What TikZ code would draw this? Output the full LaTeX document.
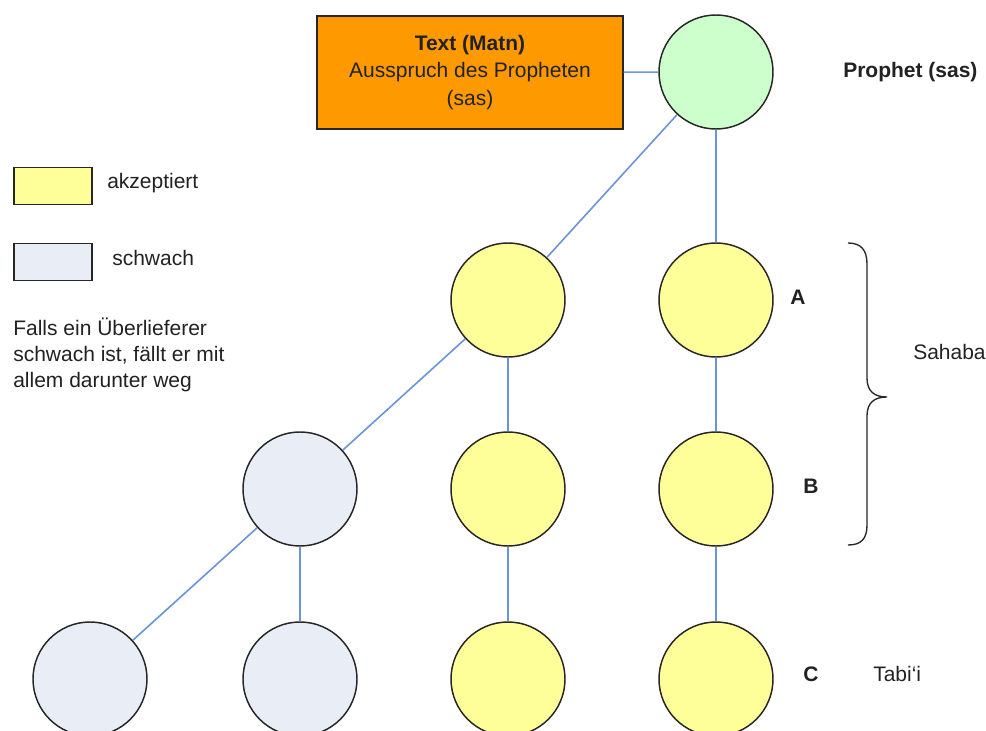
\documentclass[tikz,border=0pt]{standalone}
\usepackage{fontspec}
\setmainfont{Liberation Sans}
\definecolor{orangefill}{HTML}{FF9900}
\definecolor{greenfill}{HTML}{CCFFCC}
\definecolor{yellowfill}{HTML}{FFFF99}
\definecolor{grayfill}{HTML}{E8EDF6}
\definecolor{linkblue}{HTML}{6A94D6}
\definecolor{txt}{HTML}{222222}
\definecolor{outline}{HTML}{262626}
\begin{document}
\begin{tikzpicture}[x=0.75pt,y=-0.75pt,
  every node/.style={font=\fontsize{15.75}{19.5}\selectfont, text=txt},
  circ/.style={circle, draw=outline, line width=1.1pt, minimum size=85.5pt, inner sep=0pt},
  acc/.style={circ, fill=yellowfill},
  weak/.style={circ, fill=grayfill},
  link/.style={draw=linkblue, line width=1.2pt},
  lbl/.style={anchor=west, inner sep=0pt},
  bold/.style={lbl, font=\fontsize{15.75}{19.5}\selectfont\bfseries},
  legendbox/.style={draw=outline, line width=1.1pt, minimum width=58.5pt, minimum height=28pt, inner sep=0pt}
]
\useasboundingbox[fill=white] (0,0) rectangle (986,731);

% top
\node[draw=outline, line width=1.1pt, fill=orangefill, minimum width=229.5pt, minimum height=84.75pt, align=center, inner sep=0pt] (matn) at (470,72.5)
  {\textbf{Text (Matn)}\\[1pt]Ausspruch des Propheten\\[1pt](sas)};
\node[circ, fill=greenfill] (p) at (716,72) {};
\node[bold] (plbl) at (843,72) {Prophet (sas)};

% nodes
\node[acc] (a2) at (508,300) {};
\node[acc] (A) at (716,300) {};
\node[weak] (w3) at (300,489) {};
\node[acc] (a3) at (508,489) {};
\node[acc] (B) at (716,489) {};
\node[weak] (w4a) at (90,679) {};
\node[weak] (w4b) at (300,679) {};
\node[acc] (a4) at (508,679) {};
\node[acc] (C) at (716,679) {};

% links
\draw[link] (matn) -- (p);
\draw[link] (p) -- (a2);
\draw[link] (p) -- (A);
\draw[link] (a2) -- (w3);
\draw[link] (a2) -- (a3);
\draw[link] (A) -- (B);
\draw[link] (w3) -- (w4a);
\draw[link] (w3) -- (w4b);
\draw[link] (a3) -- (a4);
\draw[link] (B) -- (C);

% labels
\node[bold] (la) at (790,297) {A};
\node[bold] (lb) at (803,486) {B};
\node[bold] (lc) at (803,674) {C};
\node[lbl] (tabi) at (873,674) {Tabi`i};
\node[lbl] (sahaba) at (913,352) {Sahaba};

% brace
\draw[outline, line width=1pt] (848,243) .. controls (861,243) and (867,250) .. (867,264)
  -- (867,378) .. controls (867,391) and (874,397) .. (887,397)
  .. controls (874,397) and (867,403) .. (867,416)
  -- (867,525) .. controls (867,539) and (861,545) .. (848,545);

% legend
\node[legendbox, fill=yellowfill] (ly) at (53,186) {};
\node[lbl] (lyt) at (107,183) {akzeptiert};
\node[legendbox, fill=grayfill] (lg) at (53,262) {};
\node[lbl] (lgt) at (112,258) {schwach};
\node[lbl, anchor=north west, align=left, font=\fontsize{15.75}{19.5}\selectfont] (note) at (13,318)
  {Falls ein Überlieferer\\schwach ist, fällt er mit\\allem darunter weg};
\end{tikzpicture}
\end{document}
